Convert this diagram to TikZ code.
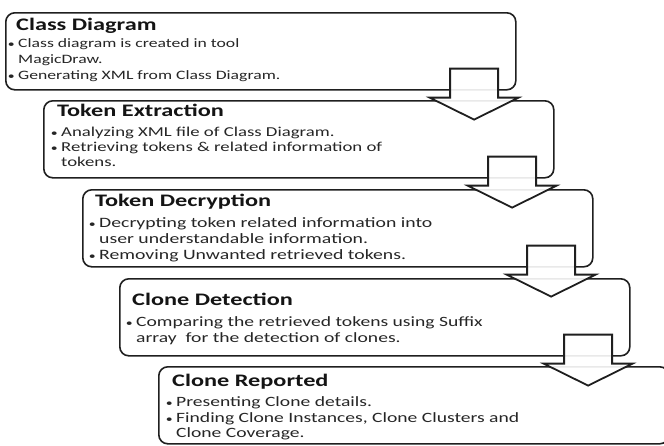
\documentclass[tikz,border=0pt]{standalone}
\usepackage{fontspec}
\setmainfont{Carlito}[FakeStretch=1.38]
\usetikzlibrary{calc}
\begin{document}
\begin{tikzpicture}[x=1pt,y=-1pt,
  box/.style={draw=black!88, line width=1.6pt, rounded corners=9pt, fill=white,
    minimum width=510pt, minimum height=77pt, anchor=north west, inner sep=0pt},
  flow/.style={draw=black!88, line width=1.8pt, fill=white, fill opacity=0.9, line join=miter},
  ttl/.style={anchor=base west, inner sep=0pt, text=black!92, font=\fontsize{17.6}{20}\selectfont\bfseries},
  bul/.style={anchor=base west, inner sep=0pt, text=black!85, font=\fontsize{14.2}{16}\selectfont},
  bulA/.style={bul, font=\fontsize{12.8}{16}\selectfont},
  bulB/.style={bul, font=\fontsize{13.6}{16}\selectfont},
  bulC/.style={bul, font=\fontsize{14.3}{16}\selectfont},
  dot/.style={anchor=base east, inner sep=0pt, text=black!85, font=\fontsize{10}{12}\selectfont}
]
\useasboundingbox (0,0) rectangle (664,445);
\fill[white] (0,0) rectangle (664,445);

% boxes
\node[box] (b1) at (5,12) {};
\node[box] (b2) at (43,100) {};
\node[box] (b3) at (82,189) {};
\node[box] (b4) at (119,278) {};
\node[box] (b5) at (158,366) {};

% box 1
\node[ttl] (t1) at (16,30) {Class Diagram};
\node[dot] (d11) at (15,47) {•};
\node[bulA] (l11) at (18,47) {Class diagram is created in tool};
\node[bulA] (l12) at (18,63) {MagicDraw.};
\node[dot] (d12) at (15,79) {•};
\node[bulA] (l13) at (18,79) {Generating XML from Class Diagram.};

% box 2
\node[ttl] (t2) at (57,116) {Token Extraction};
\node[dot] (d21) at (58,136) {•};
\node[bulB] (l21) at (61,136) {Analyzing XML file of Class Diagram.};
\node[dot] (d22) at (58,151) {•};
\node[bulB] (l22) at (61,151) {Retrieving tokens \& related information of};
\node[bulB] (l23) at (61,166) {tokens.};

% box 3
\node[ttl] (t3) at (95,206) {Token Decryption};
\node[dot] (d31) at (96,227) {•};
\node[bulC] (l31) at (99,227) {Decrypting token related information into};
\node[bulC] (l32) at (99,243) {user understandable information.};
\node[dot] (d32) at (96,259) {•};
\node[bulC] (l33) at (99,259) {Removing Unwanted retrieved tokens.};

% box 4
\node[ttl] (t4) at (132,305) {Clone Detection};
\node[dot] (d41) at (133,326) {•};
\node[bul] (l41) at (136,326) {Comparing the retrieved tokens using Suffix};
\node[bul] (l42) at (136,342) {array\ \ for the detection of clones.};

% box 5
\node[ttl] (t5) at (172,386) {Clone Reported};
\node[dot] (d51) at (173,406) {•};
\node[bul] (l51) at (176,406) {Presenting Clone details.};
\node[dot] (d52) at (173,422) {•};
\node[bul] (l52) at (176,422) {Finding Clone Instances, Clone Clusters and};
\node[bul] (l53) at (176,437) {Clone Coverage.};

% block arrows between boxes
\foreach \u in {1,2,3,4}{
  \coordinate (a\u) at ($(b\u.south east)+(-42.5,0)$);
  \draw[flow] ($(a\u)+(-24,-22)$) -- ($(a\u)+(24,-22)$) -- ($(a\u)+(24,7)$)
    -- ($(a\u)+(44.5,7)$) -- ($(a\u)+(0,29)$) -- ($(a\u)+(-44.5,7)$)
    -- ($(a\u)+(-24,7)$) -- cycle;
}
\end{tikzpicture}
\end{document}
